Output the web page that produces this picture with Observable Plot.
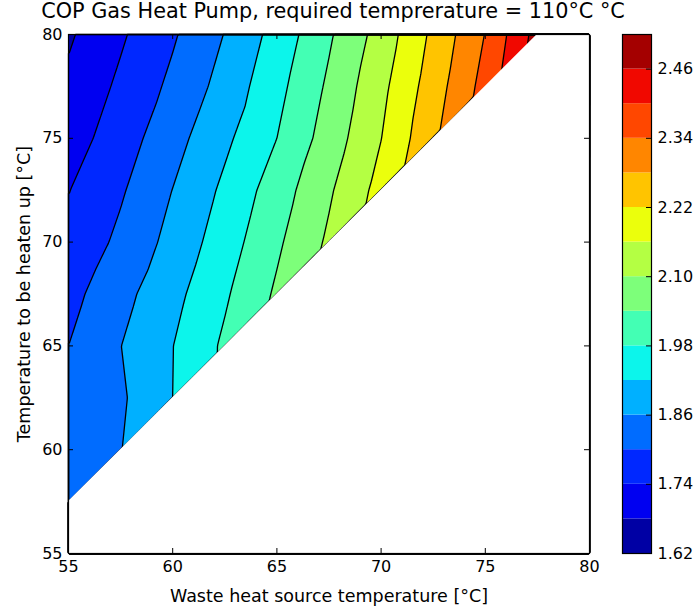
<!DOCTYPE html>
<html>
<head>
<meta charset="utf-8">
<script src="https://cdn.jsdelivr.net/npm/d3@7"></script>
<script src="https://cdn.jsdelivr.net/npm/@observablehq/plot@0.6"></script>
<style>
  html, body { margin: 0; padding: 0; background: #fff; }
  #wrap { position: relative; width: 693px; height: 608px; font-family: "DejaVu Sans", sans-serif; }
  #title { position: absolute; left: -67px; width: 800px; top: 2px; text-align: center; font-size: 20.8px; line-height: 18px; color: #000; white-space: nowrap; }
  #main { position: absolute; left: 0; top: 0; }
  #cbar { position: absolute; left: 600px; top: 0; }
</style>
</head>
<body>
<div id="wrap">
  <div id="main"></div>
  <div id="cbar"></div>
  <div id="title">COP Gas Heat Pump, required temprerature = 110°C °C</div>
</div>
<script>
// ---- data ----
const wasteTemps = [55, 57.5, 60, 62.5, 65, 67.5, 70, 72.5, 75, 77.5, 80];   // x: waste heat source temperature [°C]
const heatTemps  = [55, 57.5, 60, 62.5, 65, 67.5, 70, 72.5, 75, 77.5, 80];   // y: temperature to be heaten up [°C]

// COP per row of heatTemps, one value per wasteTemps column (null = not defined)
const copAtY55   = [null, null, null, null, null, null, null, null, null, null, null];
const copAtY57_5 = [1.845, null, null, null, null, null, null, null, null, null, null];
const copAtY60   = [1.838, 1.858, null, null, null, null, null, null, null, null, null];
const copAtY62_5 = [1.825, 1.851, 1.920, null, null, null, null, null, null, null, null];
const copAtY65   = [1.800, 1.859, 1.919, 1.990, null, null, null, null, null, null, null];
const copAtY67_5 = [1.781, 1.841, 1.902, 1.972, 2.049, null, null, null, null, null, null];
const copAtY70   = [1.755, 1.813, 1.879, 1.951, 2.030, 2.110, null, null, null, null, null];
const copAtY72_5 = [1.738, 1.793, 1.861, 1.932, 2.010, 2.092, 2.181, null, null, null, null];
const copAtY75   = [1.712, 1.771, 1.838, 1.908, 1.980, 2.067, 2.159, 2.268, null, null, null];
const copAtY77_5 = [1.692, 1.751, 1.813, 1.882, 1.962, 2.050, 2.144, 2.250, 2.362, null, null];
const copAtY80   = [1.672, 1.732, 1.793, 1.862, 1.942, 2.032, 2.124, 2.233, 2.342, 2.483, null];

// contour levels and band colours (jet)
const levels = [1.62, 1.68, 1.74, 1.80, 1.86, 1.92, 1.98, 2.04, 2.10, 2.16, 2.22, 2.28, 2.34, 2.40, 2.46, 2.52];
const bandColors = ["#0000a4", "#0000f1", "#0028ff", "#006cff", "#00b0ff", "#0cf5eb", "#43ffb4", "#7dff7a",
                    "#b4ff43", "#ebff0c", "#ffc400", "#ff8600", "#ff4700", "#f10800", "#a40000"];

// tick labels
const xTicks = [55, 60, 65, 70, 75, 80];
const yTicks = [55, 60, 65, 70, 75, 80];
const cbTicks = [1.62, 1.74, 1.86, 1.98, 2.10, 2.22, 2.34, 2.46];

const xLabel = "Waste heat source temperature [°C]";
const yLabel = "Temperature to be heaten up [°C]";

// ---- build tables ----
const copRows = [copAtY55, copAtY57_5, copAtY60, copAtY62_5, copAtY65, copAtY67_5, copAtY70, copAtY72_5, copAtY75, copAtY77_5, copAtY80];
const points = heatTemps.flatMap((y, j) => wasteTemps.map((x, i) => ({x, y, cop: copRows[j][i]})))
  .filter(d => d.cop != null);
// lower edge of the defined region, per column (for the white, undefined area)
const edge = wasteTemps.map((x, i) => {
  const ys = heatTemps.filter((y, j) => copRows[j][i] != null);
  return {x, y: ys.length ? d3.min(ys) : d3.max(heatTemps)};
});
const bandLo = levels.slice(0, -1);
const bands = bandLo.map((lo, i) => ({lo, hi: levels[i + 1]}));

const W = 600, H = 608, mT = 34, mB = 55, mL = 68, mR = 11;
const frameW = W - mL - mR, frameH = H - mT - mB;
const tickLen = 5;
const colorScale = {type: "ordinal", domain: bandLo, range: bandColors};
const font = {fontFamily: "DejaVu Sans, sans-serif", fontSize: "16px", background: "white", color: "black"};

const main = Plot.plot({
  width: W, height: H, marginTop: mT, marginBottom: mB, marginLeft: mL, marginRight: mR,
  style: font,
  x: {domain: [55, 80], label: null},
  y: {domain: [55, 80], label: null},
  color: colorScale,
  marks: [
    Plot.contour(points, {x: "x", y: "y", fill: "cop", thresholds: bandLo, interpolate: "barycentric"}),
    Plot.contour(points, {x: "x", y: "y", value: "cop", thresholds: bandLo.slice(1), interpolate: "barycentric",
                          fill: "none", stroke: "black", strokeWidth: 1.3}),
    Plot.areaY(edge, {x: "x", y1: d3.min(heatTemps), y2: "y", fill: "white", curve: "linear"}),
    Plot.tickX(xTicks, {x: d => d, insetTop: frameH - tickLen, stroke: "black"}),
    Plot.tickX(xTicks, {x: d => d, insetBottom: frameH - tickLen, stroke: "black"}),
    Plot.tickY(yTicks, {y: d => d, insetRight: frameW - tickLen, stroke: "black"}),
    Plot.tickY(yTicks, {y: d => d, insetLeft: frameW - tickLen, stroke: "black"}),
    Plot.frame({stroke: "black", strokeWidth: 1.2}),
    Plot.axisX(xTicks, {tickSize: 0, tickPadding: 7, label: null, fontSize: 16}),
    Plot.axisY(yTicks, {tickSize: 0, tickPadding: 6, label: null, fontSize: 16}),
    Plot.text([xLabel], {text: d => d, frameAnchor: "bottom", dy: 43, fontSize: 17.5, lineAnchor: "middle", textAnchor: "middle"}),
    Plot.text([yLabel], {text: d => d, frameAnchor: "left", dx: -44, rotate: -90, fontSize: 17.5, lineAnchor: "middle", textAnchor: "middle"})
  ]
});
document.getElementById("main").appendChild(main);

const cbW = 93, cbL = 22, cbR = 42;
const cbar = Plot.plot({
  width: cbW, height: H, marginTop: mT, marginBottom: mB, marginLeft: cbL, marginRight: cbR,
  style: font,
  x: {axis: null},
  y: {domain: [levels[0], levels[levels.length - 1]], axis: null},
  color: colorScale,
  marks: [
    Plot.barY(bands, {y1: "lo", y2: "hi", fill: "lo"}),
    Plot.tickY(cbTicks, {y: d => d, insetLeft: (cbW - cbL - cbR) - tickLen, stroke: "black"}),
    Plot.frame({stroke: "black", strokeWidth: 1.2}),
    Plot.axisY(cbTicks, {anchor: "right", tickSize: 0, tickPadding: 6, tickFormat: d3.format(".2f"), label: null, fontSize: 16})
  ]
});
document.getElementById("cbar").appendChild(cbar);
</script>
</body>
</html>
